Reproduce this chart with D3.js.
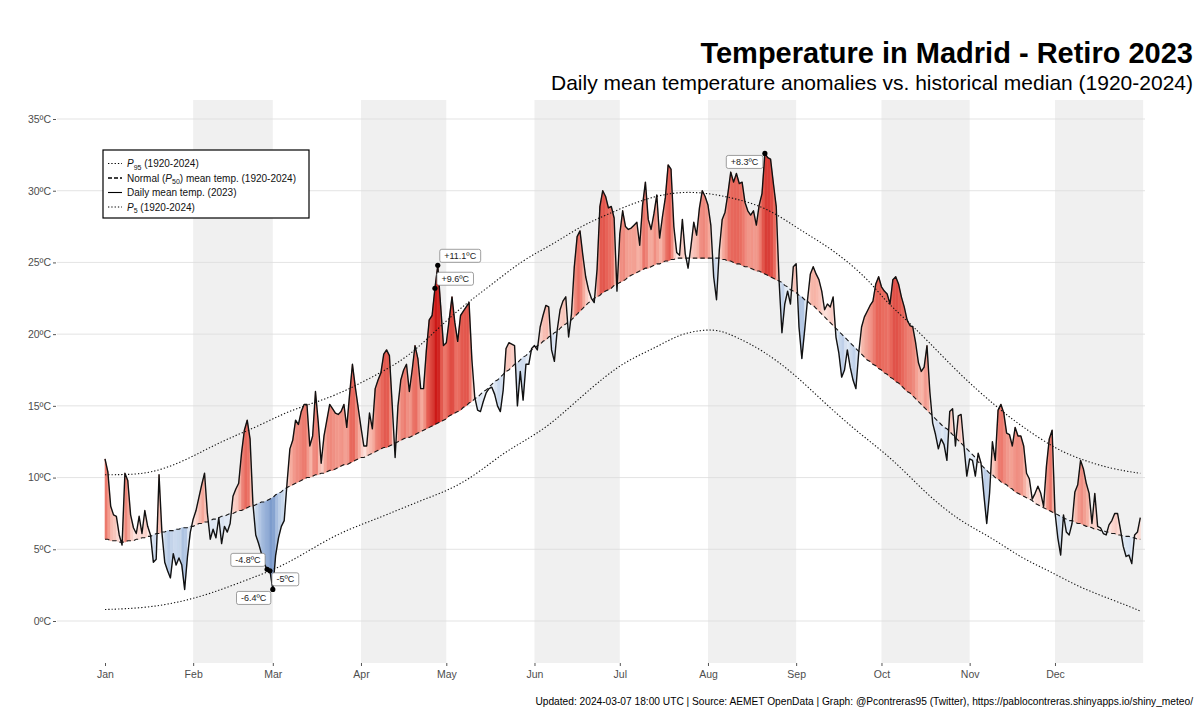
<!DOCTYPE html>
<html>
<head>
<meta charset="utf-8">
<script src="https://cdn.jsdelivr.net/npm/d3@7"></script>
<style>
body { margin: 0; background: #fff; }
svg { display: block; font-family: "Liberation Sans", Arial, sans-serif; }
</style>
</head>
<body>
<svg width="1200" height="717"></svg>
<script>
// daily mean temperature 2023 (one value per day, Jan 1 .. Dec 31)
var dailyTemp = [
 11.3,10.4,8.0,7.4,7.3,6.0,5.3,10.3,9.8,7.4,6.5,6.1,7.3,6.1,7.7,6.6,6.0,4.1,4.3,10.2,6.2,4.1,3.5,3.0,4.7,3.9,4.4,3.9,2.2,4.5,6.2,
 7.1,7.7,8.6,9.5,10.3,7.5,5.7,6.4,5.8,7.2,5.4,6.6,6.2,6.8,8.7,9.2,9.6,11.7,13.3,14.0,12.7,8.2,6.0,5.4,4.7,4.0,3.6,3.5,
 2.2,4.6,5.8,6.6,7.0,9.6,12.0,12.6,14.0,13.7,14.6,15.1,15.1,12.2,12.9,16.0,13.8,11.0,12.9,14.0,15.1,14.8,14.5,14.4,14.6,15.1,13.5,15.8,17.9,16.3,14.9,
 13.5,12.2,12.2,14.5,13.4,16.2,16.8,17.3,18.6,18.9,18.5,15.0,11.4,15.0,16.8,17.5,17.9,16.0,17.5,19.2,18.3,16.2,16.2,18.9,21.0,21.3,23.2,24.8,22.0,19.2,
 19.4,21.0,22.6,20.8,19.5,21.3,21.6,21.9,22.2,18.2,15.6,14.7,14.6,15.3,15.9,16.2,16.3,15.8,15.0,14.6,16.1,19.0,19.4,19.3,19.2,15.0,17.4,15.4,17.9,17.9,19.0,
 19.2,18.9,20.5,21.3,22.0,21.9,18.9,18.1,20.3,21.7,22.3,22.6,19.8,21.4,24.7,26.8,27.2,25.5,24.0,23.1,22.5,22.2,24.5,28.9,30.0,29.6,28.8,28.9,28.1,23.0,
 27.0,28.6,27.5,27.3,27.4,27.6,27.8,26.2,29.0,30.6,28.0,27.3,28.4,29.7,26.7,28.2,29.5,31.8,31.5,27.5,25.7,25.5,28.0,25.6,24.6,26.1,27.8,26.9,28.8,30.0,29.6,
 29.0,27.6,24.0,22.4,25.9,28.0,28.5,29.8,31.3,30.6,31.2,30.5,30.6,29.2,28.6,28.3,28.6,27.6,29.0,29.8,32.6,32.3,32.2,30.5,28.9,23.7,20.1,22.1,23.0,22.1,24.7,
 24.9,20.5,18.3,20.3,22.4,24.2,24.7,24.2,23.8,23.0,21.7,22.1,21.9,22.6,19.8,18.7,17.0,17.5,18.9,17.7,16.8,16.2,18.7,20.5,21.2,21.6,22.0,22.3,23.5,24.0,
 23.3,23.0,22.8,22.1,23.8,24.0,23.5,22.6,21.9,21.0,20.6,20.5,19.4,18.0,17.4,17.7,19.2,16.0,13.8,13.0,12.0,12.7,12.3,11.2,14.6,14.8,12.2,14.3,14.4,12.2,10.1,
 11.3,11.2,10.1,11.7,11.0,8.8,6.8,8.9,12.5,11.2,14.7,15.1,14.5,13.1,13.0,12.2,13.5,12.9,12.9,12.2,10.3,9.9,8.5,8.9,9.4,8.9,8.0,10.8,12.7,13.3,
 7.6,5.8,4.6,7.4,6.2,6.0,6.8,9.0,9.5,11.2,10.6,9.6,8.9,6.8,8.9,6.6,6.5,6.1,6.0,6.7,7.0,7.5,7.5,6.4,5.2,4.5,4.6,4.0,6.0,6.2,7.2
];

// normal (P50) daily mean temperature 1920-2024
var normalTemp = [
 5.7,5.7,5.6,5.6,5.6,5.5,5.5,5.5,5.6,5.6,5.6,5.7,5.7,5.8,5.8,5.9,5.9,6.0,6.1,6.1,6.2,6.2,6.3,6.3,6.3,6.4,6.4,6.5,6.5,6.5,6.6,
 6.6,6.7,6.8,6.8,6.9,6.9,7.0,7.1,7.1,7.2,7.3,7.3,7.4,7.5,7.5,7.6,7.7,7.7,7.8,7.9,8.0,8.0,8.1,8.2,8.3,8.3,8.4,8.5,
 8.6,8.8,8.9,9.0,9.2,9.3,9.4,9.5,9.6,9.7,9.8,9.9,10.0,10.0,10.1,10.2,10.2,10.3,10.3,10.4,10.5,10.5,10.6,10.7,10.8,10.9,10.9,11.0,11.1,11.2,11.3,
 11.4,11.4,11.5,11.6,11.7,11.8,11.9,12.0,12.1,12.1,12.2,12.3,12.4,12.5,12.6,12.7,12.8,12.8,12.9,13.0,13.1,13.2,13.3,13.4,13.5,13.6,13.7,13.8,13.9,14.0,
 14.1,14.3,14.4,14.5,14.6,14.7,14.9,15.0,15.2,15.3,15.5,15.6,15.8,16.0,16.1,16.3,16.5,16.7,16.8,17.0,17.2,17.4,17.5,17.7,17.9,18.0,18.2,18.4,18.5,18.7,18.9,
 19.0,19.2,19.3,19.5,19.6,19.8,19.9,20.1,20.2,20.4,20.6,20.7,20.9,21.0,21.2,21.4,21.6,21.8,22.0,22.2,22.3,22.5,22.6,22.7,22.9,23.0,23.1,23.2,23.4,23.5,
 23.6,23.7,23.8,24.0,24.1,24.2,24.3,24.4,24.5,24.6,24.6,24.7,24.8,24.9,24.9,25.0,25.1,25.1,25.2,25.2,25.3,25.3,25.3,25.3,25.3,25.3,25.3,25.3,25.3,25.3,25.3,
 25.3,25.3,25.3,25.3,25.3,25.2,25.2,25.1,25.1,25.0,24.9,24.9,24.8,24.7,24.7,24.6,24.5,24.4,24.4,24.3,24.2,24.1,24.0,23.9,23.8,23.7,23.6,23.4,23.3,23.1,23.0,
 22.9,22.7,22.6,22.4,22.3,22.1,22.0,21.8,21.6,21.4,21.2,21.0,20.8,20.6,20.4,20.2,20.0,19.8,19.6,19.4,19.2,19.0,18.8,18.6,18.4,18.2,18.1,17.9,17.8,17.6,
 17.5,17.3,17.2,17.0,16.9,16.7,16.6,16.4,16.2,16.0,15.9,15.7,15.5,15.3,15.1,14.9,14.7,14.5,14.3,14.1,13.9,13.7,13.5,13.4,13.2,13.0,12.8,12.6,12.4,12.2,12.0,
 11.8,11.6,11.4,11.1,10.9,10.7,10.5,10.3,10.2,10.0,9.9,9.7,9.6,9.5,9.3,9.2,9.0,8.9,8.8,8.7,8.6,8.5,8.4,8.2,8.1,8.0,7.9,7.8,7.7,7.6,
 7.5,7.4,7.3,7.2,7.1,7.0,7.0,6.9,6.8,6.8,6.7,6.6,6.6,6.5,6.4,6.4,6.3,6.3,6.2,6.2,6.1,6.1,6.0,6.0,5.9,5.9,5.9,5.8,5.8,5.7,5.7
];

// P95 and P5 (day of year, value)
var p95Days = [0,7,16,26,35,43,53,62,70,81,93,105,113,124,135,147,157,167,176,189,200,210,221,233,244,256,268,274,280,289,301,313,322,335,344,354,364];
var p95Temp = [10.2,10.2,10.3,11.0,11.9,12.7,13.5,14.4,15.0,15.7,16.9,18.2,19.6,21.7,23.3,25.2,26.2,27.5,28.3,29.4,29.9,29.9,29.5,28.8,27.3,25.9,23.9,22.4,21.3,19.6,17.1,15.0,13.6,11.9,11.2,10.6,10.3];
var p5Days = [0,14,26,37,49,61,70,81,91,99,111,122,131,140,147,156,165,176,184,194,202,210,216,222,231,242,253,265,277,289,301,312,322,332,343,354,364];
var p5Temp = [0.8,0.9,1.3,1.9,2.8,3.7,4.7,6.0,6.8,7.4,8.4,9.2,10.3,11.7,12.5,13.6,15.2,17.1,18.2,19.1,20.0,20.3,20.3,19.8,18.9,17.3,15.2,13.1,11.3,8.8,6.9,5.8,4.4,3.5,2.3,1.5,0.7];

var monthLabels = ["Jan","Feb","Mar","Apr","May","Jun","Jul","Aug","Sep","Oct","Nov","Dec"];
var yTicks = [0,5,10,15,20,25,30,35];

var labelDays = [116,117,232,57,58,59];
var labelTexts = ["+9.6ºC","+11.1ºC","+8.3ºC","-4.8ºC","-5ºC","-6.4ºC"];

var svg = d3.select("svg");
var start = new Date(Date.UTC(2023,0,1));
function dayDate(i){ return d3.utcDay.offset(start, i) }

var xScale = d3.scaleUtc().domain([dayDate(0), dayDate(364)]).range([105, 1140.3]);
var yScale = d3.scaleLinear().domain([0,35]).range([621,119]);
var panelLeft = 57, panelRight = 1145, panelTop = 100, panelBottom = 663;

// month bands
var months = d3.utcMonths(start, new Date(Date.UTC(2024,0,1)));
svg.append("g").selectAll("rect")
.data(months.filter(function(m, i){ return i % 2 == 1 }))
.enter().append("rect")
.attr("x", function(d){ return xScale(d) })
.attr("width", function(d){ return xScale(d3.utcMonth.offset(d,1)) - xScale(d) })
.attr("y", panelTop).attr("height", panelBottom - panelTop)
.attr("fill", "#f0f0f0")

// grid
svg.append("g").selectAll("line").data(yTicks).enter().append("line")
.attr("x1", panelLeft).attr("x2", panelRight)
.attr("y1", function(d){ return yScale(d) }).attr("y2", function(d){ return yScale(d) })
.attr("stroke", "#dcdcdc").attr("stroke-width", 0.8)

// axes
var yAxis = d3.axisLeft(yScale).tickValues(yTicks).tickSize(3).tickPadding(2).tickFormat(function(d){ return d + "ºC" })
var yG = svg.append("g").attr("transform", "translate(" + (panelLeft - 1) + ",0)").call(yAxis)
var xAxis = d3.axisBottom(xScale).tickValues(months).tickSize(3).tickPadding(5).tickFormat(function(d){ return monthLabels[d.getUTCMonth()] })
var xG = svg.append("g").attr("transform", "translate(0," + panelBottom + ")").call(xAxis)
;[yG, xG].forEach(function(g){
  g.select(".domain").remove()
  g.selectAll(".tick line").attr("stroke", "#555")
  g.selectAll(".tick text").attr("fill", "#4d4d4d").style("font-size", "10.5px").style("font-family", "Liberation Sans, Arial, sans-serif")
})

// anomaly fill, one piece per day
var posColor = d3.scaleLinear().domain([0, 2.5, 6, 11]).range(["#fff3f0", "#f7b4a7", "#e8665a", "#c80c0c"]).clamp(true)
var negColor = d3.scaleLinear().domain([0, 2.5, 6.5]).range(["#f3f7fc", "#c2d3ea", "#6c8ec6"]).clamp(true)
function anomColor(a){ return a >= 0 ? posColor(a) : negColor(-a) }

var pieceArea = d3.area()
.x(function(p){ return xScale(dayDate(0)) + (xScale(dayDate(1)) - xScale(dayDate(0))) * p.d })
.y0(function(p){ return yScale(p.n) })
.y1(function(p){ return yScale(p.t) })

var pieces = []
d3.range(dailyTemp.length - 1).forEach(function(i){
  var p0 = {d: i, t: dailyTemp[i], n: normalTemp[i]}
  var p1 = {d: i + 1, t: dailyTemp[i+1], n: normalTemp[i+1]}
  var a0 = p0.t - p0.n, a1 = p1.t - p1.n
  if (a0 * a1 < 0) {
    var f = a0 / (a0 - a1)
    var v = p0.n + f * (p1.n - p0.n)
    var m = {d: i + f, t: v, n: v}
    pieces.push({pts: [p0, m], a: a0 / 2})
    pieces.push({pts: [m, p1], a: a1 / 2})
  } else {
    pieces.push({pts: [p0, p1], a: (a0 + a1) / 2})
  }
})

svg.append("g").selectAll("path").data(pieces).enter().append("path")
.attr("d", function(d){ return pieceArea(d.pts) })
.attr("fill", function(d){ return anomColor(d.a) })
.attr("stroke", function(d){ return anomColor(d.a) })
.attr("stroke-width", 0.6)

// reference lines
var pLine = d3.line().curve(d3.curveBasis)
.x(function(d){ return xScale(dayDate(d[0])) }).y(function(d){ return yScale(d[1]) })
;[d3.zip(p95Days, p95Temp), d3.zip(p5Days, p5Temp)].forEach(function(pts){
  svg.append("path").attr("d", pLine(pts))
  .attr("fill", "none").attr("stroke", "#111").attr("stroke-width", 1.1).attr("stroke-dasharray", "1.3,2")
})

var dayLine = d3.line()
.x(function(d, i){ return xScale(dayDate(i)) }).y(function(d){ return yScale(d) })

svg.append("path").attr("d", dayLine(normalTemp))
.attr("fill", "none").attr("stroke", "#1a1a1a").attr("stroke-width", 1.1).attr("stroke-dasharray", "4.5,3")

svg.append("path").attr("d", dayLine(dailyTemp))
.attr("fill", "none").attr("stroke", "#111").attr("stroke-width", 1.4).attr("stroke-linejoin", "round")

// labelled points
var labelPlace = ["ne", "ne", "sw", "nw", "se", "sw"]
var labelG = svg.append("g").selectAll("g").data(labelDays).enter().append("g")
labelG.each(function(day, k){
  var g = d3.select(this)
  var px = xScale(dayDate(day)), py = yScale(dailyTemp[day])
  g.append("circle").attr("cx", px).attr("cy", py).attr("r", 2.6).attr("fill", "#000")
  var t = g.append("text").text(labelTexts[k]).style("font-size", "9px").attr("fill", "#222")
  var w = t.node().getComputedTextLength() + 9, h = 13
  var place = labelPlace[k]
  var bx = place[1] == "e" ? px + 2 : px - 2 - w
  var by = place[0] == "n" ? py - 3 - h : py + 2
  g.insert("rect", "text").attr("x", bx).attr("y", by).attr("width", w).attr("height", h)
  .attr("rx", 2).attr("fill", "#fff").attr("stroke", "#777").attr("stroke-width", 0.7)
  t.attr("x", bx + 4.5).attr("y", by + 9.6)
})

// legend
var legend = svg.append("g").attr("transform", "translate(103,150)")
legend.append("rect").attr("width", 206).attr("height", 68).attr("fill", "#fff").attr("stroke", "#000").attr("stroke-width", 1.2)
var legendDash = ["1.3,2", "4,2", null, "1.3,2"]
legendDash.forEach(function(dash, i){
  var cy = 13.5 + i * 14.5
  legend.append("line").attr("x1", 5).attr("x2", 19).attr("y1", cy).attr("y2", cy)
  .attr("stroke", "#000").attr("stroke-width", dash == "4,2" ? 1.6 : 1.1).attr("stroke-dasharray", dash)
})
function legendText(i){
  return legend.append("text").attr("x", 24).attr("y", 13.5 + i * 14.5 + 3.6).style("font-size", "10px").attr("fill", "#111")
}
var t0 = legendText(0)
t0.append("tspan").style("font-style", "italic").text("P")
t0.append("tspan").attr("dy", 2.5).style("font-size", "7px").text("95")
t0.append("tspan").attr("dy", -2.5).text(" (1920-2024)")
var t1 = legendText(1)
t1.append("tspan").text("Normal (")
t1.append("tspan").style("font-style", "italic").text("P")
t1.append("tspan").attr("dy", 2.5).style("font-size", "7px").text("50")
t1.append("tspan").attr("dy", -2.5).text(") mean temp. (1920-2024)")
legendText(2).text("Daily mean temp. (2023)")
var t3 = legendText(3)
t3.append("tspan").style("font-style", "italic").text("P")
t3.append("tspan").attr("dy", 2.5).style("font-size", "7px").text("5")
t3.append("tspan").attr("dy", -2.5).text(" (1920-2024)")

// titles
svg.append("text").attr("x", 1193).attr("y", 63).attr("text-anchor", "end")
.style("font-size", "29px").style("font-weight", "bold").attr("fill", "#000")
.text("Temperature in Madrid - Retiro 2023")
svg.append("text").attr("x", 1193).attr("y", 90).attr("text-anchor", "end")
.style("font-size", "21px").attr("fill", "#000")
.text("Daily mean temperature anomalies vs. historical median (1920-2024)")
svg.append("text").attr("x", 1193).attr("y", 705).attr("text-anchor", "end")
.style("font-size", "10.2px").attr("fill", "#000")
.text("Updated: 2024-03-07 18:00 UTC | Source: AEMET OpenData | Graph: @Pcontreras95 (Twitter), https://pablocontreras.shinyapps.io/shiny_meteo/")
</script>
</body>
</html>
